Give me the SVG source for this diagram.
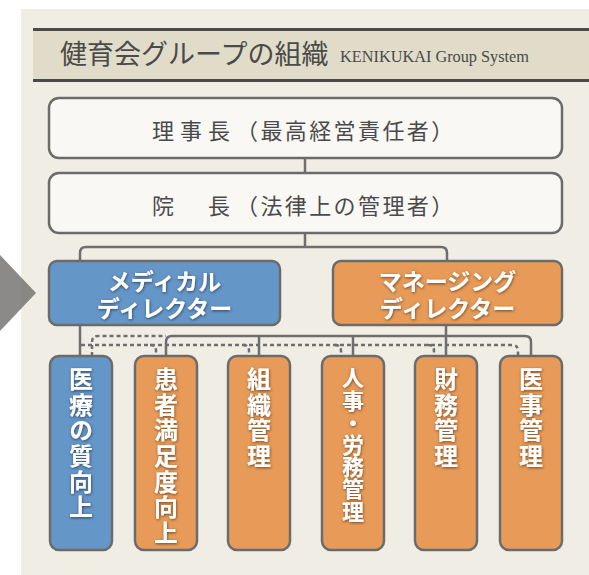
<svg xmlns="http://www.w3.org/2000/svg" width="589" height="575" viewBox="0 0 589 575">
<defs>
<style>
.panel{fill:#f0eee4}
.band{fill:#e0dcc9}
.bandline{stroke:#4a4a48;stroke-width:3;fill:none}
.title{font-family:"Liberation Serif","Noto Sans CJK JP",serif;fill:#4a4a48}
.wbox{fill:#f9f8f5;stroke:#6b6b6b;stroke-width:2.5}
.blue{fill:#6596c8;stroke:#6b6b6b;stroke-width:2.5}
.orange{fill:#e89b58;stroke:#6b6b6b;stroke-width:2.5}
.dark{font-family:"Noto Sans CJK JP","Noto Sans",sans-serif;font-size:22px;fill:#4a4a4a}
.wt{font-family:"Noto Sans CJK JP","Noto Sans",sans-serif;font-weight:bold;fill:#ffffff;filter:url(#sh)}
.md{font-size:23px;text-anchor:middle}
.v{font-size:24px;writing-mode:vertical-rl;letter-spacing:1.6px}
.vt{font-size:22px;writing-mode:vertical-rl;letter-spacing:0.2px}
.ln{stroke:#6e6e6e;stroke-width:2.5;fill:none}
.dot{stroke:#6e6e6e;stroke-width:2.5;fill:none;stroke-dasharray:4 3}
</style>
<filter id="sh" x="-30%" y="-30%" width="160%" height="160%">
<feDropShadow dx="0.5" dy="1" stdDeviation="1.5" flood-color="#000" flood-opacity="0.55"/>
</filter>
</defs>
<rect width="589" height="575" fill="#ffffff"/>
<rect class="panel" x="21" y="9" width="568" height="566"/>
<polygon points="0,255 36,293 0,331" fill="#6e6d6a" opacity="0.8"/>
<g id="header">
<rect class="band" x="33" y="29.5" width="556" height="51"/>
<line class="bandline" x1="33" y1="29.5" x2="589" y2="29.5"/>
<line class="bandline" x1="33" y1="80.5" x2="589" y2="80.5"/>
<text class="title" x="60" y="64" font-size="27">健育会グループの組織</text>
<text class="title" x="340" y="62" font-size="17" textLength="189" lengthAdjust="spacingAndGlyphs">KENIKUKAI Group System</text>
</g>
<g id="connectors">
<path class="ln" d="M305,158 V173"/>
<path class="ln" d="M305,233 V247"/>
<path class="ln" d="M80,261 V253 Q80,247 86,247 H441 Q447,247 447,253 V261"/>
<path class="ln" d="M80,325 V356"/>
<path class="ln" d="M166,356 V342 Q166,336 172,336 H525 Q531,336 531,342 V356"/>
<path class="ln" d="M259,336 V356"/>
<path class="ln" d="M353,336 V356"/>
<path class="ln" d="M446,325 V356"/>
<path class="dot" d="M81,345 H512 Q518,345 518,351 V356"/>
<path class="dot" d="M92,356 V342 Q92,336 98,336 H166"/>
<path class="dot" d="M150,345 Q156,345 156,351 V356"/>
<path class="dot" d="M243,345 Q249,345 249,351 V356"/>
<path class="dot" d="M335,345 Q341,345 341,351 V356"/>
<path class="dot" d="M428,345 Q434,345 434,351 V356"/>
</g>
<g id="chairman">
<rect class="wbox" x="49" y="98" width="513" height="60" rx="10"/>
<text class="dark" x="152" y="139"><tspan letter-spacing="6">理事長</tspan><tspan letter-spacing="2.4">（最高経営責任者）</tspan></text>
</g>
<g id="director">
<rect class="wbox" x="49" y="173" width="513" height="60" rx="10"/>
<text class="dark" x="152" y="214"><tspan letter-spacing="6">院　長</tspan><tspan letter-spacing="2.4">（法律上の管理者）</tspan></text>
</g>
<g id="medical-director">
<rect class="blue" x="49" y="261" width="231" height="64" rx="8"/>
<text class="wt md"><tspan x="164.5" y="290">メディカル</tspan><tspan x="164.5" y="317">ディレクター</tspan></text>
</g>
<g id="managing-director">
<rect class="orange" x="333" y="261" width="229" height="64" rx="8"/>
<text class="wt md"><tspan x="447.5" y="290">マネージング</tspan><tspan x="447.5" y="317">ディレクター</tspan></text>
</g>
<g id="quality">
<rect class="blue" x="50" y="356" width="62" height="194" rx="9"/>
<text class="wt v" x="81" y="367">医療の質向上</text>
</g>
<g id="satisfaction">
<rect class="orange" x="135" y="356" width="62" height="194" rx="9"/>
<text class="wt v" x="166" y="367">患者満足度向上</text>
</g>
<g id="organization">
<rect class="orange" x="228" y="356" width="62" height="194" rx="9"/>
<text class="wt v" x="259" y="367">組織管理</text>
</g>
<g id="personnel">
<rect class="orange" x="322" y="356" width="62" height="194" rx="9"/>
<text class="wt vt" x="353" y="367">人事・労務管理</text>
</g>
<g id="finance">
<rect class="orange" x="415" y="356" width="62" height="194" rx="9"/>
<text class="wt v" x="446" y="367">財務管理</text>
</g>
<g id="medical-affairs">
<rect class="orange" x="500" y="356" width="62" height="194" rx="9"/>
<text class="wt v" x="531" y="367">医事管理</text>
</g>
</svg>
